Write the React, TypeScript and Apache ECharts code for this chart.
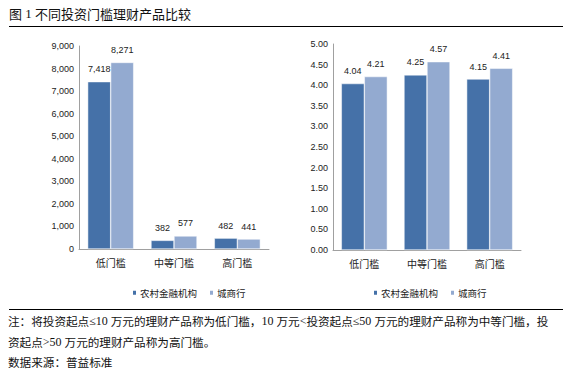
import React, { useEffect, useRef } from "react";
import * as echarts from "echarts";

const categories = ["低门槛", "中等门槛", "高门槛"];
const seriesNames = ["农村金融机构", "城商行"];
const countRural = [7418, 382, 482];
const countCity = [8271, 577, 441];
const yieldRural = [4.04, 4.25, 4.15];
const yieldCity = [4.21, 4.57, 4.41];
const titleText = "图 1 不同投资门槛理财产品比较";
const noteLines = [
  "注：将投资起点≤10 万元的理财产品称为低门槛，10 万元<投资起点≤50 万元的理财产品称为中等门槛，投",
  "资起点>50 万元的理财产品称为高门槛。",
  "数据来源：普益标准",
];

const DARK = "#4571a8";
const LIGHT = "#93aad0";
const NUM_FONT = "'Liberation Sans', Arial, sans-serif";
const CJK_FONT = "'Noto Sans CJK SC', sans-serif";
const SERIF = "'Liberation Serif', 'Times New Roman', serif";

function toRich(t: string) {
  const parts = t.split(/([0-9≤<> ]+)/).filter((s) => s.length > 0);
  return parts
    .map((p) => (/^[0-9≤<> ]+$/.test(p) ? `{n|${p}}` : `{c|${p}}`))
    .join("");
}

export default function App() {
  const ref = useRef<HTMLDivElement>(null);
  useEffect(() => {
    document.body.style.margin = "0";
    const chart = echarts.init(ref.current!, null, { renderer: "svg" });
    const axisLabelY = { color: "#222", fontSize: 9, fontFamily: NUM_FONT, margin: 5 };
    const catAxis = (gi: number) => ({
      type: "category",
      gridIndex: gi,
      data: categories,
      axisLine: { lineStyle: { color: "#a0a0a0", width: 1 } },
      axisTick: { show: false },
      axisLabel: { color: "#222", fontSize: 10, fontFamily: CJK_FONT, margin: 8 },
    });
    const valAxisCommon = {
      axisLine: { show: true, lineStyle: { color: "#a0a0a0", width: 1 } },
      axisTick: { show: false },
      splitLine: { show: false },
    };
    const label = (fmt: (v: number) => string) => ({
      show: true,
      position: "top",
      distance: 8,
      color: "#222",
      fontSize: 9,
      fontFamily: NUM_FONT,
      formatter: (p: any) => fmt(p.value),
    });
    const fmtCount = (v: number) => v.toLocaleString("en-US");
    const fmtYield = (v: number) => v.toFixed(2);
    const bar = (name: string, data: number[], color: string, gi: number, fmt: (v: number) => string) => ({
      type: "bar",
      name,
      xAxisIndex: gi,
      yAxisIndex: gi,
      data,
      barWidth: 23,
      barGap: "0%",
      itemStyle: { color, borderColor: "#fff", borderWidth: 0.5 },
      label: label(fmt),
    });
    const legend = (left: number, i: number) => ({
      id: "lg" + i,
      left,
      top: 283,
      itemWidth: 5,
      itemHeight: 6,
      itemGap: 11,
      icon: "rect",
      textStyle: { fontSize: 9.5, color: "#222", fontFamily: CJK_FONT, padding: [0, 0, 0, -2] },
      data: seriesNames,
    });
    chart.setOption({
      animation: false,
      backgroundColor: "#fff",
      grid: [
        { left: 79, top: 46, width: 190, height: 203 },
        { left: 333, top: 44, width: 188, height: 206 },
      ],
      xAxis: [catAxis(0), catAxis(1)],
      yAxis: [
        {
          type: "value",
          gridIndex: 0,
          min: 0,
          max: 9000,
          interval: 1000,
          ...valAxisCommon,
          axisLabel: { ...axisLabelY, formatter: (v: number) => fmtCount(v) },
        },
        {
          type: "value",
          gridIndex: 1,
          min: 0,
          max: 5,
          interval: 0.5,
          ...valAxisCommon,
          axisLabel: { ...axisLabelY, formatter: (v: number) => fmtYield(v) },
        },
      ],
      legend: [legend(126, 0), legend(367, 1)],
      series: [
        bar(seriesNames[0], countRural, DARK, 0, fmtCount),
        bar(seriesNames[1], countCity, LIGHT, 0, fmtCount),
        bar(seriesNames[0], yieldRural, DARK, 1, fmtYield),
        bar(seriesNames[1], yieldCity, LIGHT, 1, fmtYield),
      ],
      graphic: [
        {
          type: "text",
          left: 9,
          top: 7,
          style: {
            text: toRich(titleText),
            rich: {
              c: { font: `13px ${CJK_FONT}`, fill: "#111" },
              n: { font: `13px ${SERIF}`, fill: "#111" },
            },
          },
        },
        { type: "line", shape: { x1: 9, y1: 26.5, x2: 563, y2: 26.5 }, style: { stroke: "#000", lineWidth: 1 } },
        { type: "line", shape: { x1: 9, y1: 309.5, x2: 563, y2: 309.5 }, style: { stroke: "#000", lineWidth: 1 } },
        ...noteLines.map((t, i) => ({
          type: "text",
          left: 8,
          top: [315, 336, 356][i],
          style: {
            text: toRich(t),
            rich: {
              c: { font: `11.6px ${CJK_FONT}`, fill: "#111" },
              n: { font: `12px ${SERIF}`, fill: "#111" },
            },
          },
        })),
      ],
    });
    return () => chart.dispose();
  }, []);
  return <div ref={ref} style={{ width: 574, height: 380 }} />;
}
